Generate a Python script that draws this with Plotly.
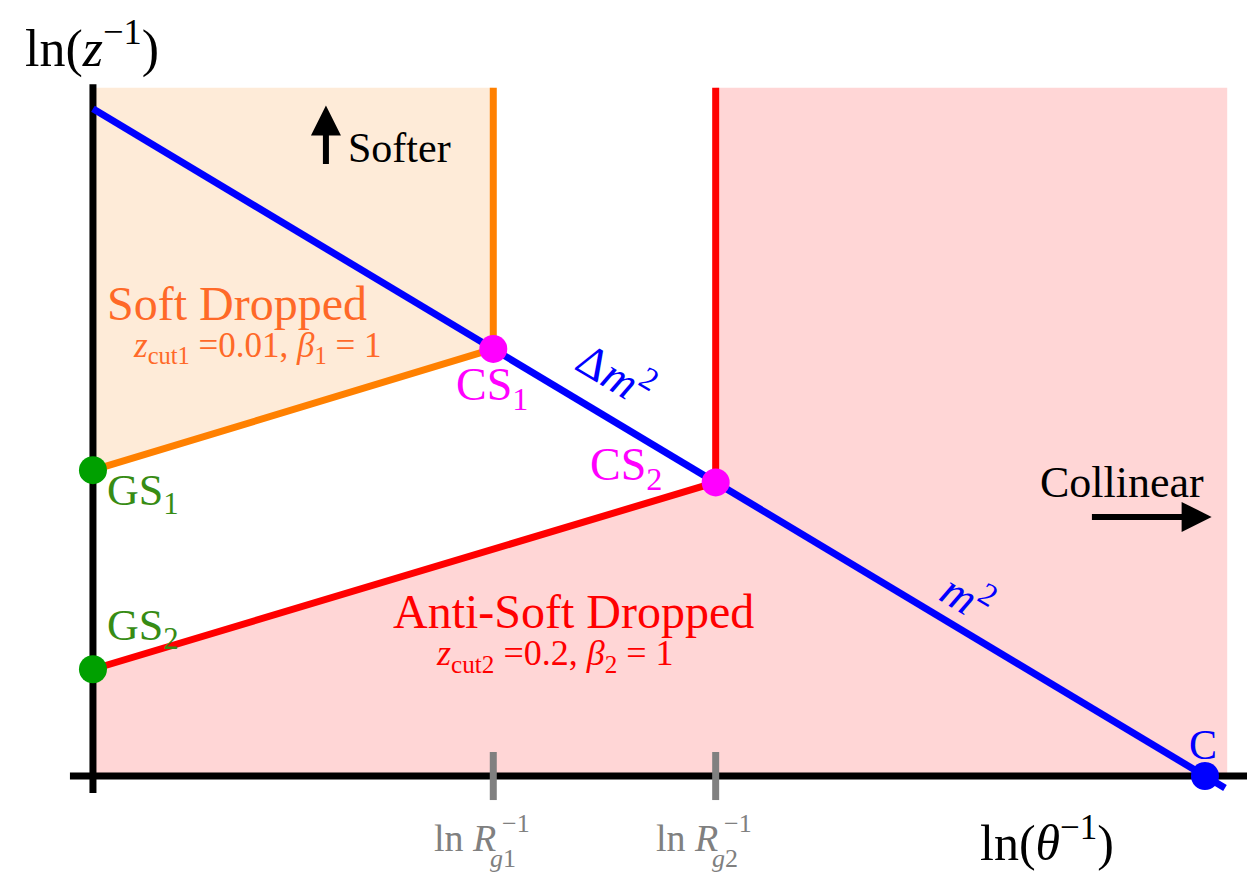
import plotly.graph_objects as go

# --- schematic values (Lund-plane units) ---
ln_Rg_inv = [3.6, 5.6]          # ln R_g1^-1, ln R_g2^-1
gs_y = [2.75, 0.96]             # ln(1/z) at GS1, GS2 (theta = R)
m2_intercept = 6.0              # ln(1/z) where m^2 line meets the z axis
collinear_x = 10.0              # point C on the theta axis
y_top = 6.19
x_right = 10.2
tick_labels = ["ln <i>R</i>", "ln <i>R</i>"]
tick_sups = ["−1", "−1"]
tick_subs = ["<i>g</i>1", "<i>g</i>2"]

slope = -m2_intercept / collinear_x
def m2_line(x):
    return m2_intercept + slope * x

cs_y = [m2_line(x) for x in ln_Rg_inv]

SERIF = "Liberation Serif"
ORANGE = "#FF8000"
RED = "#FF0000"
BLUE = "#0000FF"
MAGENTA = "#FF00FF"
GREEN = "#00A000"
CORAL = "rgb(255,105,40)"
LBLGREEN = "rgb(55,140,20)"
GRAY = "#808080"
LW = 7

fig = go.Figure()

# filled regions
fig.add_trace(go.Scatter(
    x=[0, 0, ln_Rg_inv[0], ln_Rg_inv[0]],
    y=[gs_y[0], y_top, y_top, cs_y[0]],
    fill="toself", fillcolor="rgb(254,235,216)", line=dict(width=0),
    mode="lines", hoverinfo="skip"))
fig.add_trace(go.Scatter(
    x=[0, 0, ln_Rg_inv[1], ln_Rg_inv[1], x_right, x_right],
    y=[0, gs_y[1], cs_y[1], y_top, y_top, 0],
    fill="toself", fillcolor="rgb(255,214,214)", line=dict(width=0),
    mode="lines", hoverinfo="skip"))

# axes
fig.add_trace(go.Scatter(x=[-0.207, 10.40], y=[0, 0], mode="lines",
                         line=dict(color="black", width=LW), hoverinfo="skip"))
fig.add_trace(go.Scatter(x=[0, 0], y=[-0.153, 6.22], mode="lines",
                         line=dict(color="black", width=LW), hoverinfo="skip"))

# gray tick marks
for xv in ln_Rg_inv:
    fig.add_trace(go.Scatter(x=[xv, xv], y=[-0.216, 0.216], mode="lines",
                             line=dict(color=GRAY, width=7), hoverinfo="skip"))

# soft drop boundaries
fig.add_trace(go.Scatter(x=[0, ln_Rg_inv[0], ln_Rg_inv[0]],
                         y=[gs_y[0], cs_y[0], y_top], mode="lines",
                         line=dict(color=ORANGE, width=LW), hoverinfo="skip"))
fig.add_trace(go.Scatter(x=[0, ln_Rg_inv[1], ln_Rg_inv[1]],
                         y=[gs_y[1], cs_y[1], y_top], mode="lines",
                         line=dict(color=RED, width=LW), hoverinfo="skip"))

# m^2 line
x_end = 10.18
fig.add_trace(go.Scatter(x=[0, x_end], y=[m2_line(0), m2_line(x_end)], mode="lines",
                         line=dict(color=BLUE, width=LW), hoverinfo="skip"))

# markers
fig.add_trace(go.Scatter(x=[0, 0], y=gs_y, mode="markers",
                         marker=dict(color=GREEN, size=28), hoverinfo="skip"))
fig.add_trace(go.Scatter(x=ln_Rg_inv, y=cs_y, mode="markers",
                         marker=dict(color=MAGENTA, size=28), hoverinfo="skip"))
fig.add_trace(go.Scatter(x=[collinear_x], y=[0], mode="markers",
                         marker=dict(color=BLUE, size=28), hoverinfo="skip"))

def txt(x, y, s, size, color, angle=0, xanchor="center"):
    fig.add_annotation(x=x, y=y, text=s, showarrow=False, textangle=angle,
                       font=dict(family=SERIF, size=size, color=color),
                       xanchor=xanchor, yanchor="middle")

txt(-0.01, 6.57, "ln(<i>z</i><sup>−1</sup>)", 52, "black")
txt(8.58, -0.57, "ln(<i>θ</i><sup>−1</sup>)", 50, "black")
for xv, lab, sp, sb in zip(ln_Rg_inv, tick_labels, tick_sups, tick_subs):
    txt(xv + 0.042, -0.56, lab, 38, GRAY, xanchor="right")
    txt(xv + 0.06, -0.43, sp, 26, GRAY, xanchor="left")
    txt(xv - 0.05, -0.74, sb, 26, GRAY, xanchor="left")
txt(2.76, 5.65, "Softer", 42, "black")
txt(9.25, 2.64, "Collinear", 44, "black")
txt(1.295, 4.25, "Soft Dropped", 48, CORAL)
txt(1.48, 3.85, "<i>z</i><sub>cut1</sub> =0.01, <i>β</i><sub>1</sub> = 1", 35, CORAL)
txt(4.32, 1.48, "Anti-Soft Dropped", 48, RED)
txt(4.155, 1.088, "<i>z</i><sub>cut2</sub> =0.2, <i>β</i><sub>2</sub> = 1", 36, RED)
txt(3.59, 3.49, "CS<sub>1</sub>", 46, MAGENTA)
txt(4.79, 2.77, "CS<sub>2</sub>", 46, MAGENTA)
txt(0.45, 2.54, "GS<sub>1</sub>", 44, LBLGREEN)
txt(0.45, 1.33, "GS<sub>2</sub>", 44, LBLGREEN)
txt(4.71, 3.63, "Δ<i>m</i><sup>2</sup>", 46, BLUE, 31)
txt(7.87, 1.63, "<i>m</i><sup>2</sup>", 46, BLUE, 31)
txt(9.98, 0.28, "C", 42, BLUE)

# arrows
fig.add_annotation(x=2.095, y=6.03, ax=2.095, ay=5.49, xref="x", yref="y",
                   axref="x", ayref="y", text="", showarrow=True,
                   arrowhead=2, arrowsize=1, arrowwidth=6, arrowcolor="black")
fig.add_annotation(x=10.06, y=2.33, ax=8.97, ay=2.33, xref="x", yref="y",
                   axref="x", ayref="y", text="", showarrow=True,
                   arrowhead=2, arrowsize=1, arrowwidth=6, arrowcolor="black")

# page body has an 8px margin, so the figure is 1247x865 and ranges are offset
fig.update_layout(
    width=1247, height=865, margin=dict(l=0, r=0, t=0, b=0),
    paper_bgcolor="white", plot_bgcolor="white", showlegend=False,
    xaxis=dict(range=[-0.764, 10.45], visible=False, fixedrange=True),
    yaxis=dict(range=[-0.872, 6.906], visible=False, fixedrange=True),
)

fig.write_html("out.html")
